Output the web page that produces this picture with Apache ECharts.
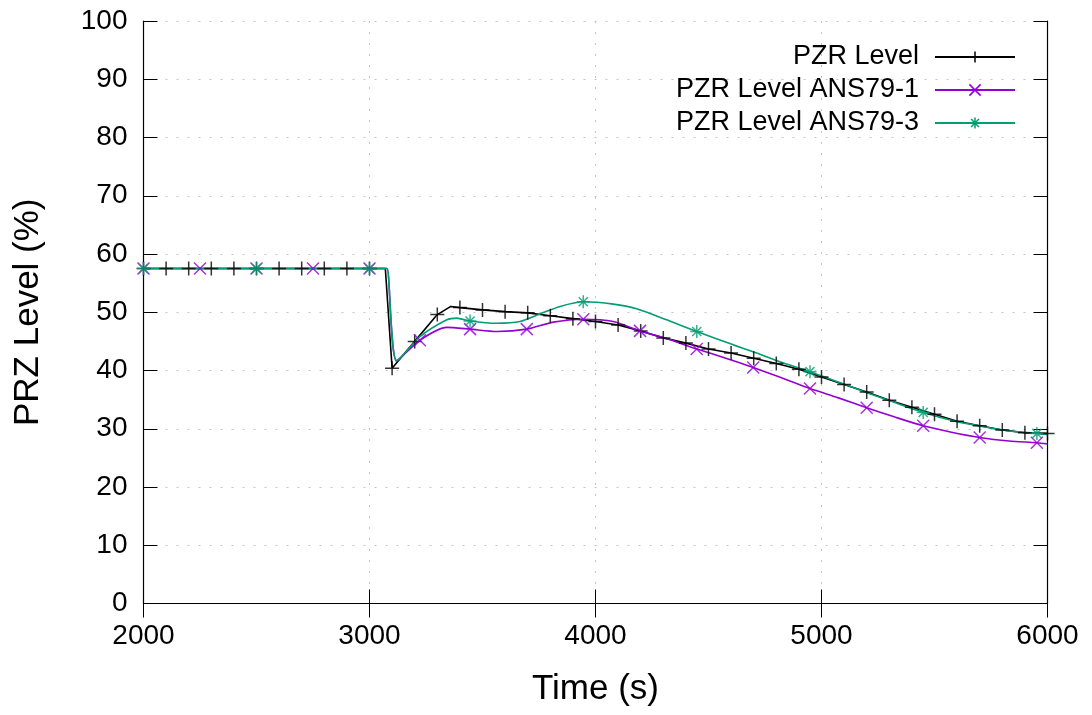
<!DOCTYPE html>
<html><head><meta charset="utf-8">
<script src="https://cdn.jsdelivr.net/npm/echarts@6/dist/echarts.min.js"></script>
<style>html,body{margin:0;padding:0;background:#fff}#c{width:1092px;height:715px}</style>
</head><body><div id="c"></div>
<script>
const seriesNames = ['PZR Level', 'PZR Level ANS79-1', 'PZR Level ANS79-3'];
const xTickValues = [2000, 3000, 4000, 5000, 6000];
const yTickValues = [0, 10, 20, 30, 40, 50, 60, 70, 80, 90, 100];
const xAxisTitle = 'Time (s)';
const yAxisTitle = 'PRZ Level (%)';

// PZR Level (black)
const pzrTime  = [2000,2100,2200,2300,2400,2500,2600,2700,2800,2900,3000,3070,3100,3200,3300,3360,3400,3500,3600,3700,3800,3900,4000,4100,4200,4300,4400,4500,4600,4700,4800,4900,5000,5100,5200,5300,5400,5500,5600,5700,5800,5900,6000];
const pzrLevel = [57.5,57.5,57.5,57.5,57.5,57.5,57.5,57.5,57.5,57.5,57.5,57.5,40.4,45.0,49.6,51.0,50.8,50.4,50.1,49.9,49.4,48.9,48.4,47.8,46.8,45.6,44.7,43.7,43.0,42.1,41.2,40.2,38.9,37.6,36.3,34.9,33.7,32.5,31.3,30.5,29.8,29.3,29.2];
const pzrMarkerTime = [2000,2100,2200,2300,2400,2500,2600,2700,2800,2900,3000,3100,3200,3300,3400,3500,3600,3700,3800,3900,4000,4100,4200,4300,4400,4500,4600,4700,4800,4900,5000,5100,5200,5300,5400,5500,5600,5700,5800,5900,6000];

// PZR Level ANS79-1 (purple)
const ans1Time  = [2000,2250,2500,2750,3000,3070,3078,3120,3223,3342,3445,3563,3696,3813,3946,4079,4197,4320,4448,4570,4698,4820,4949,5075,5200,5325,5450,5575,5700,5830,5953,6000];
const ans1Level = [57.5,57.5,57.5,57.5,57.5,57.5,57.5,41.7,45.2,47.4,47.1,46.7,47.1,48.3,48.8,48.4,46.8,45.4,43.7,42.2,40.5,38.8,36.9,35.3,33.6,32.0,30.5,29.4,28.5,27.9,27.6,27.4];
const ans1MarkerTime = [2000,2250,2500,2750,3000,3223,3445,3696,3946,4197,4448,4698,4949,5200,5450,5700,5953];

// PZR Level ANS79-3 (green)
const ans3Time  = [2000,2500,3000,3070,3078,3120,3223,3342,3386,3445,3563,3666,3754,3843,3946,4079,4182,4315,4448,4610,4713,4816,4949,5111,5200,5303,5450,5600,5710,5830,5953,6000];
const ans3Level = [57.5,57.5,57.5,57.5,57.5,41.6,45.8,48.7,49.0,48.5,48.1,48.4,49.7,51.0,51.8,51.4,50.6,48.7,46.7,44.4,43.0,41.5,39.8,37.5,36.2,34.8,32.8,31.2,30.4,29.6,29.2,29.0];
const ans3MarkerTime = [2000,2500,3000,3445,3946,4448,4949,5450,5953];

const colors = ['#000000', '#9400d3', '#009e73'];
const symbols = [
  'path://M0,5L10,5M5,0L5,10',
  'path://M0,0L10,10M10,0L0,10',
  'path://M0,5L10,5M5,0L5,10M1.5,1.5L8.5,8.5M8.5,1.5L1.5,8.5'
];
const symbolSizes = [14, 12, 13];
const smooths = [false, 0.25, 0.25];

const sets = [
  [pzrTime, pzrLevel, pzrMarkerTime],
  [ans1Time, ans1Level, ans1MarkerTime],
  [ans3Time, ans3Level, ans3MarkerTime]
];

const FONT = 'Liberation Sans';
const series = [];
sets.forEach((s, i) => {
  const pts = s[0].map((t, k) => [t, s[1][k]]);
  const mset = new Set(s[2]);
  const marks = pts.filter(p => mset.has(p[0]));
  series.push({
    name: seriesNames[i], type: 'line', data: pts, smooth: smooths[i],
    showSymbol: false, symbol: symbols[i], symbolSize: symbolSizes[i],
    lineStyle: { color: colors[i], width: 1.6 },
    itemStyle: { color: 'rgba(0,0,0,0)', borderColor: colors[i], borderWidth: 1.5 },
    emphasis: { disabled: true }, z: 3 + i, animation: false, clip: true
  });
  series.push({
    name: seriesNames[i], type: 'scatter', data: marks,
    symbol: symbols[i], symbolSize: symbolSizes[i],
    itemStyle: { color: 'rgba(0,0,0,0)', borderColor: colors[i], borderWidth: 1.5 },
    emphasis: { disabled: true }, z: 6 + i, animation: false, clip: false
  });
});

const gridLine = { show: true, lineStyle: { color: '#c4c4c4', width: 1, type: [2, 9] } };
const tickIn = { show: true, inside: true, length: 14, lineStyle: { color: '#000', width: 1 } };

const option = {
  backgroundColor: '#ffffff',
  animation: false,
  grid: { left: 143.5, right: 44.5, top: 21, bottom: 111.5, containLabel: false },
  legend: {
    data: seriesNames, orient: 'vertical', align: 'right',
    right: 71, top: 37, itemWidth: 80, itemHeight: 14, itemGap: 3,
    textStyle: { fontFamily: FONT, fontSize: 27, color: '#000', lineHeight: 30, padding: [0, 11, 0, 0] },
    itemStyle: { borderWidth: 1.5 },
    selectedMode: false
  },
  xAxis: [
    { type: 'value', min: 2000, max: 6000, interval: 1000, position: 'bottom',
      name: xAxisTitle, nameLocation: 'middle', nameGap: 68,
      nameTextStyle: { fontFamily: FONT, fontSize: 35, color: '#000' },
      axisLine: { show: true, lineStyle: { color: '#000', width: 1.2 } },
      axisTick: tickIn, splitLine: gridLine,
      axisLabel: { fontFamily: FONT, fontSize: 28, color: '#000', margin: 19,
        formatter: v => xTickValues.includes(v) ? String(v) : '' } },
    { type: 'value', min: 2000, max: 6000, interval: 1000, position: 'top',
      axisLine: { show: true, lineStyle: { color: '#000', width: 1.2 } },
      axisTick: tickIn, splitLine: { show: false }, axisLabel: { show: false } }
  ],
  yAxis: [
    { type: 'value', min: 0, max: 100, interval: 10, position: 'left',
      name: yAxisTitle, nameLocation: 'middle', nameGap: 98, nameRotate: 90,
      nameTextStyle: { fontFamily: FONT, fontSize: 35, color: '#000' },
      axisLine: { show: true, lineStyle: { color: '#000', width: 1.2 } },
      axisTick: tickIn, splitLine: gridLine,
      axisLabel: { fontFamily: FONT, fontSize: 28, color: '#000', margin: 16,
        formatter: v => yTickValues.includes(v) ? String(v) : '' } },
    { type: 'value', min: 0, max: 100, interval: 10, position: 'right',
      axisLine: { show: true, lineStyle: { color: '#000', width: 1.2 } },
      axisTick: tickIn, splitLine: { show: false }, axisLabel: { show: false } }
  ],
  series: series
};

const chart = echarts.init(document.getElementById('c'), null, { renderer: 'canvas' });
chart.setOption(option);
</script>
</body></html>
